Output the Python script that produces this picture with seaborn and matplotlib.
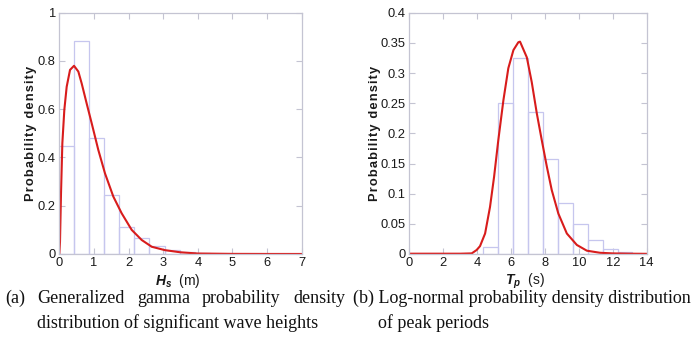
import numpy as np
import pandas as pd
import seaborn as sns
import matplotlib
matplotlib.use("Agg")
import matplotlib.pyplot as plt
from matplotlib import font_manager as fm

# ---------------- data ----------------
# (a) significant wave height Hs (m)
hs_edges = [0.0, 0.434, 0.868, 1.302, 1.736, 2.170, 2.604, 3.038, 3.472, 3.906, 4.340]
hs_hist = [0.447, 0.881, 0.479, 0.243, 0.110, 0.065, 0.033, 0.017, 0.007, 0.003]
hs_curve_x = [0.0, 0.02, 0.049, 0.088, 0.145, 0.213, 0.31, 0.425, 0.55, 0.646, 0.79,
              0.935, 1.127, 1.32, 1.56, 1.80, 2.09, 2.38, 2.67, 3.05, 3.5, 4.0, 5.0, 6.0, 7.0]
hs_curve_y = [0.0, 0.05, 0.25, 0.459, 0.597, 0.693, 0.763, 0.780, 0.756, 0.707, 0.624,
              0.542, 0.431, 0.334, 0.238, 0.169, 0.100, 0.058, 0.030, 0.016, 0.007, 0.002, 0.0005, 0.0002, 0.0001]

# (b) peak period Tp (s)
tp_edges = [1.72, 2.60, 3.48, 4.36, 5.24, 6.12, 7.00, 7.88, 8.76, 9.64, 10.52, 11.40, 12.28, 13.16]
tp_hist = [0.0006, 0.0006, 0.0006, 0.011, 0.251, 0.325, 0.235, 0.157, 0.084, 0.049, 0.023, 0.008, 0.003]
tp_curve_x = [0.0, 1.5, 3.0, 3.68, 3.97, 4.17, 4.47, 4.76, 5.0, 5.25, 5.55, 5.84, 6.14, 6.43, 6.53,
              6.93, 7.22, 7.52, 7.81, 8.11, 8.40, 8.79, 9.29, 9.88, 10.47, 11.25, 12.0, 13.0, 14.0]
tp_curve_y = [0.0005, 0.0005, 0.0005, 0.001, 0.0066, 0.013, 0.034, 0.078, 0.128, 0.189, 0.255, 0.308, 0.338,
              0.351, 0.352, 0.326, 0.285, 0.233, 0.189, 0.145, 0.106, 0.067, 0.034, 0.015, 0.0055,
              0.002, 0.001, 0.0005, 0.0003]

hs_xticks = [0, 1, 2, 3, 4, 5, 6, 7]
hs_yticks = [0, 0.2, 0.4, 0.6, 0.8, 1]
hs_yticklabels = ["0", "0.2", "0.4", "0.6", "0.8", "1"]
tp_xticks = [0, 2, 4, 6, 8, 10, 12, 14]
tp_yticks = [0, 0.05, 0.1, 0.15, 0.2, 0.25, 0.3, 0.35, 0.4]
tp_yticklabels = ["0", "0.05", "0.1", "0.15", "0.2", "0.25", "0.3", "0.35", "0.4"]

ylabel_text = "Probability density"
caption_a1 = ["(a)", "Generalized", "gamma", "probability", "density"]
caption_a2 = "distribution of significant wave heights"
caption_b1 = "(b) Log-normal probability density distribution"
caption_b2 = "of peak periods"

# ---------------- style ----------------
sns.set_theme(style="white")
names = {f.name for f in fm.fontManager.ttflist}
narrow = "Liberation Sans Narrow" in names
tick_font = "Liberation Sans Narrow" if narrow else "Liberation Sans"
plt.rcParams["font.family"] = [tick_font, "DejaVu Sans"]
plt.rcParams["mathtext.fontset"] = "custom"
plt.rcParams["mathtext.rm"] = "Liberation Sans"
plt.rcParams["mathtext.it"] = "Liberation Sans:italic"
plt.rcParams["mathtext.bf"] = "Liberation Sans:bold"
plt.rcParams["mathtext.bfit"] = "Liberation Sans:italic:bold"

W, H = 697, 359
fig = plt.figure(figsize=(W / 100, H / 100), dpi=100)
fig.patch.set_facecolor("white")

box_color = "#c4c4d2"
hist_color = "#c6c6ee"
curve_color = "#d81c1c"
text_color = "#1a1a1a"


def px_axes(x0, x1, ytop, ybot):
    return fig.add_axes([x0 / W, 1 - ybot / H, (x1 - x0) / W, (ybot - ytop) / H])


def style_axes(ax, xticks, yticks, yticklabels, xlim, ylim):
    ax.set_xlim(*xlim)
    ax.set_ylim(*ylim)
    ax.set_xticks(xticks)
    ax.set_xticklabels([str(t) for t in xticks])
    ax.set_yticks(yticks)
    ax.set_yticklabels(yticklabels)
    for s in ax.spines.values():
        s.set_visible(True)
        s.set_color(box_color)
        s.set_linewidth(0.9)
    ax.tick_params(direction="in", length=4, width=0.8, color=box_color,
                   top=True, right=True, bottom=True, left=True,
                   labelsize=10.5 if narrow else 9.3, labelcolor=text_color, pad=2.5)
    ax.set_facecolor("white")
    ax.grid(False)


def draw(ax, edges, hist, cx, cy):
    centers = [(edges[i] + edges[i + 1]) / 2 for i in range(len(hist))]
    df_h = pd.DataFrame({"x": centers, "w": hist})
    sns.histplot(data=df_h, x="x", weights="w", bins=edges, stat="count",
                 fill=False, color=hist_color, linewidth=0.9, ax=ax)
    df_c = pd.DataFrame({"x": cx, "y": cy})
    sns.lineplot(data=df_c, x="x", y="y", color=curve_color, linewidth=1.5,
                 ax=ax, estimator=None, sort=True)
    ax.set_xlabel("")
    ax.set_ylabel("")


# left panel
axL = px_axes(59.3, 301.7, 12.7, 254)
draw(axL, hs_edges, hs_hist, hs_curve_x, hs_curve_y)
style_axes(axL, hs_xticks, hs_yticks, hs_yticklabels, (0, 7), (0, 1))

# right panel
axR = px_axes(409.3, 646.7, 12.7, 254)
draw(axR, tp_edges, tp_hist, tp_curve_x, tp_curve_y)
style_axes(axR, tp_xticks, tp_yticks, tp_yticklabels, (0, 14), (0, 0.4))

# y labels (letter-spaced, bold)
spaced = "\u200a".join(ylabel_text)
for xc in (31, 375):
    fig.text(xc / W, 1 - 133.3 / H, spaced, rotation=90, ha="center", va="center",
             fontsize=9.3, fontweight="bold", family=["Liberation Sans", "DejaVu Sans"],
             color=text_color)

# x labels
fig.text(178 / W, 1 - 281 / H, r"$\mathbfit{H}_{\mathbfit{s}}$  (m)", ha="center", va="center",
         fontsize=10, family=["Liberation Sans", "DejaVu Sans"], color=text_color)
fig.text(525 / W, 1 - 281 / H, r"$\mathbfit{T}_{\mathbfit{p}}$  (s)", ha="center", va="center",
         fontsize=10, family=["Liberation Sans", "DejaVu Sans"], color=text_color)

# captions
serif = ["Liberation Serif", "DejaVu Serif"]
cap_fs = 13.0
y1 = 1 - 303 / H
y2 = 1 - 328 / H
renderer = fig.canvas.get_renderer()

# justified first line of caption (a): from x=5 to x=345 px
word_texts = [fig.text(0, y1, w, ha="left", va="baseline", fontsize=cap_fs, family=serif,
                       color="#111111") for w in caption_a1]
widths = [t.get_window_extent(renderer).width for t in word_texts]
left_px, right_px = 5, 345
gap = (right_px - left_px - sum(widths)) / (len(widths) - 1)
xpos = left_px
for t, wdt in zip(word_texts, widths):
    t.set_x(xpos / W)
    xpos += wdt + gap

fig.text(37 / W, y2, caption_a2, ha="left", va="baseline", fontsize=cap_fs, family=serif, color="#111111")
fig.text(353 / W, y1, caption_b1, ha="left", va="baseline", fontsize=cap_fs, family=serif, color="#111111")
fig.text(378 / W, y2, caption_b2, ha="left", va="baseline", fontsize=cap_fs, family=serif, color="#111111")

fig.savefig("out.png", dpi=100, facecolor="white")
